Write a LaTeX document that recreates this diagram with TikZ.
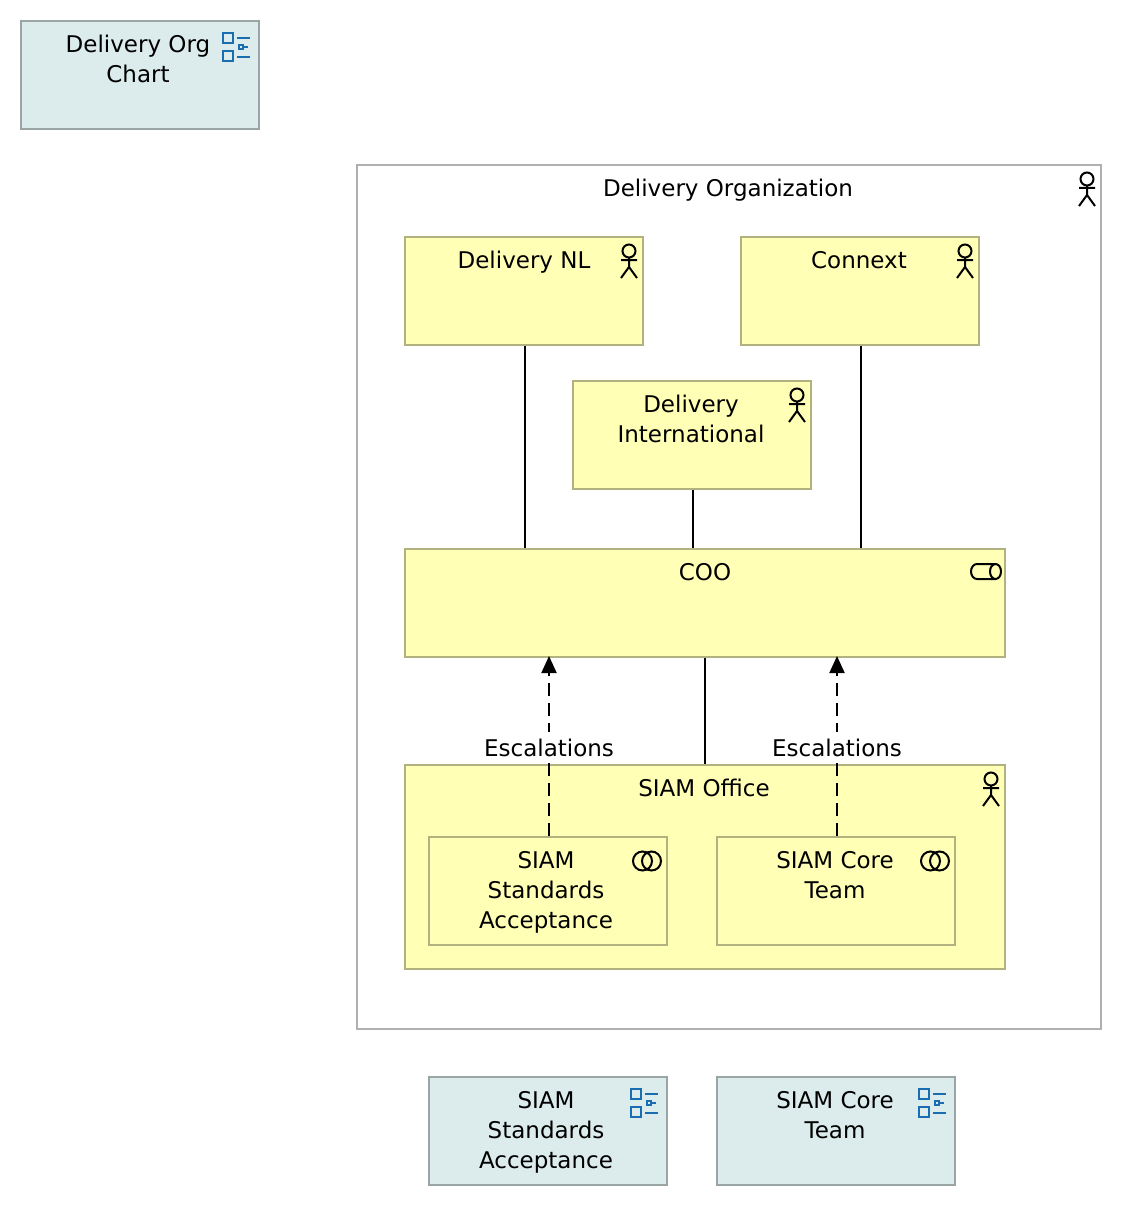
\documentclass[tikz,border=0pt]{standalone}
\usepackage{fontspec}
\setmainfont{DejaVu Sans}
\usetikzlibrary{arrows.meta}
\definecolor{elemfill}{HTML}{FFFFB5}
\definecolor{elemline}{HTML}{B2B27F}
\definecolor{viewfill}{HTML}{DCEBEB}
\definecolor{viewline}{HTML}{9AA6A6}
\definecolor{groupline}{HTML}{B0B0B0}
\definecolor{iconblue}{HTML}{1A6DB0}
\tikzset{
	box/.style={draw, line width=2pt, anchor=north west, inner sep=0pt},
	elem/.style={box, draw=elemline, fill=elemfill},
	viewref/.style={box, draw=viewline, fill=viewfill},
	txt/.style={align=center, inner sep=0pt, font=\fontsize{23}{30}\selectfont},
	rel/.style={line width=2pt, black},
	dep/.style={rel, dashed, dash pattern=on 13pt off 7pt, -{Triangle[length=17pt, width=15pt]}},
	actor/.pic={
		\draw[line width=2pt] (0,-7) circle[radius=6.5];
		\draw[line width=2pt] (0,0) -- (0,9) (-8,2) -- (8,2) (-8,20) -- (0,9) -- (8,20);
	},
	role/.pic={
		\draw[line width=2pt] (24.5,0) arc (270:-90:5.5 and 7.5);
		\draw[line width=2pt] (24.5,0) -- (6,0) arc (270:90:6 and 7.5) -- (24.5,15);
	},
	collab/.pic={
		\draw[line width=2pt] (-4.5,0) circle[radius=9.5] (4.5,0) circle[radius=9.5];
	},
	viewicon/.pic={
		\draw[iconblue, line width=2pt] (0,0) rectangle (10,10) (0,18) rectangle (10,28);
		\draw[iconblue, line width=2pt] (14,5) -- (27,5) (14,24) -- (27,24) (21,14) -- (25,14);
		\draw[iconblue, line width=1.5pt] (16,12) rectangle (20,16);
	}
}
\begin{document}
\begin{tikzpicture}[x=1pt, y=-1pt]
	\useasboundingbox (0,0) rectangle (1122,1206);
	% views
	\node[viewref, minimum width=238pt, minimum height=108pt] (orgchart) at (20,20) {};
	\node[txt] (orgcharttext) at (138,59) {Delivery Org\\Chart};
	\pic at (223,33) {viewicon};
	\node[viewref, minimum width=238pt, minimum height=108pt] (saview) at (428,1076) {};
	\node[txt] (saviewtext) at (546,1132) {SIAM\\Standards\\Acceptance};
	\pic at (631,1089) {viewicon};
	\node[viewref, minimum width=238pt, minimum height=108pt] (coreview) at (716,1076) {};
	\node[txt] (coreviewtext) at (835,1115) {SIAM Core\\Team};
	\pic at (919,1089) {viewicon};
	% organization
	\node[box, draw=groupline, fill=white, minimum width=744pt, minimum height=864pt] (org) at (356,164) {};
	\node[txt] (orgtext) at (728,190) {Delivery Organization};
	\pic at (1087,186) {actor};
	\node[elem, minimum width=238pt, minimum height=108pt] (nl) at (404,236) {};
	\node[txt] (nltext) at (524,262) {Delivery NL};
	\pic at (629,258) {actor};
	\node[elem, minimum width=238pt, minimum height=108pt] (connext) at (740,236) {};
	\node[txt] (connexttext) at (859,260) {Connext};
	\pic at (965,258) {actor};
	\node[elem, minimum width=238pt, minimum height=108pt] (intl) at (572,380) {};
	\node[txt] (intltext) at (691,419) {Delivery\\International};
	\pic at (797,402) {actor};
	\node[elem, minimum width=600pt, minimum height=108pt] (coo) at (404,548) {};
	\node[txt] (cootext) at (705,572) {COO};
	\pic at (971,564) {role};
	\node[elem, minimum width=600pt, minimum height=204pt] (office) at (404,764) {};
	\node[txt] (officetext) at (704,788) {SIAM Office};
	\pic at (991,786) {actor};
	\node[elem, minimum width=238pt, minimum height=108pt] (acceptance) at (428,836) {};
	\node[txt] (acceptancetext) at (546,892) {SIAM\\Standards\\Acceptance};
	\pic at (647,861) {collab};
	\node[elem, minimum width=238pt, minimum height=108pt] (core) at (716,836) {};
	\node[txt] (coretext) at (835,875) {SIAM Core\\Team};
	\pic at (935,861) {collab};
	% relations
	\coordinate (nlout) at ([xshift=1pt]nl.south);
	\coordinate (connextout) at ([xshift=1pt]connext.south);
	\coordinate (intlout) at ([xshift=1pt]intl.south);
	\coordinate (saout) at ([xshift=1pt]acceptance.north);
	\coordinate (coreout) at ([xshift=1pt]core.north);
	\coordinate (satip) at ([yshift=2pt]saout |- coo.south);
	\coordinate (coretip) at ([yshift=2pt]coreout |- coo.south);
	\draw[rel] (nlout) -- (nlout |- coo.north);
	\draw[rel] (connextout) -- (connextout |- coo.north);
	\draw[rel] (intlout) -- (intlout |- coo.north);
	\draw[rel] (coo.south) -- (office.north);
	\draw[dep] (saout) -- (satip) node[txt, fill=white, pos=0.5, yshift=-1pt, text height=25pt, text depth=6pt] (esca) {Escalations};
	\draw[dep] (coreout) -- (coretip) node[txt, fill=white, pos=0.5, yshift=-1pt, text height=25pt, text depth=6pt] (escb) {Escalations};
\end{tikzpicture}
\end{document}
